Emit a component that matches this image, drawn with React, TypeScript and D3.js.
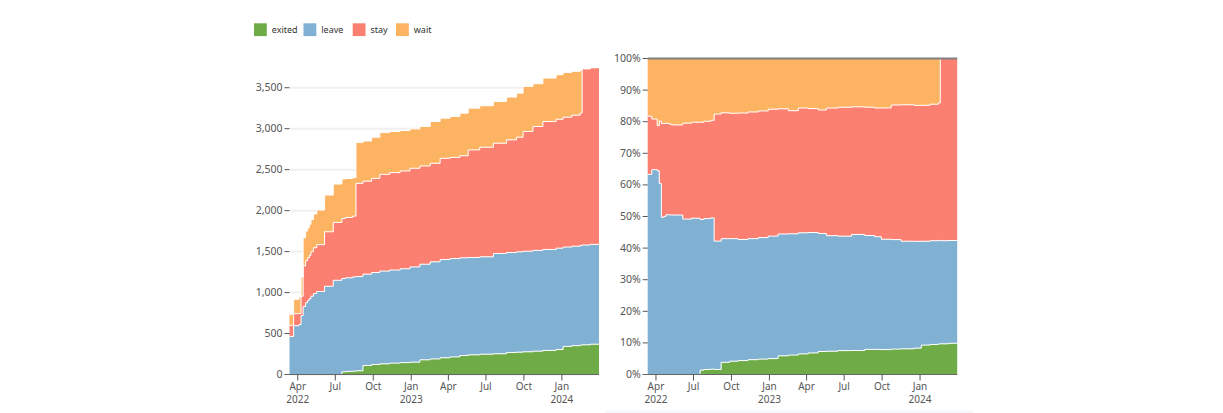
import * as d3 from 'd3';

// cumulative counts per status (step changes)
const dates = [
  '2022-03-12', '2022-03-22', '2022-04-04', '2022-04-09', '2022-04-14', '2022-04-20',
  '2022-04-25', '2022-04-29', '2022-05-03', '2022-05-09', '2022-05-17', '2022-06-05',
  '2022-06-26', '2022-07-17', '2022-07-26', '2022-08-12', '2022-08-20', '2022-09-06',
  '2022-09-27', '2022-10-17', '2022-11-10', '2022-12-05', '2022-12-29', '2023-01-22',
  '2023-02-16', '2023-03-12', '2023-04-05', '2023-04-29', '2023-05-19', '2023-06-16',
  '2023-07-19', '2023-08-20', '2023-09-13', '2023-09-29', '2023-10-23', '2023-11-16',
  '2023-12-18', '2024-01-04', '2024-01-25', '2024-02-14', '2024-02-19', '2024-03-10',
  '2024-03-31',
];
const exited = [
  0, 0, 0, 0, 0, 0, 0, 0, 0, 0, 0, 0,
  0, 33, 38, 41, 45, 110, 122, 130, 139, 145, 151, 179,
  190, 204, 215, 232, 240, 248, 253, 269, 273, 277, 285, 294,
  305, 343, 352, 359, 362, 370, 375,
];
const leave = [
  465, 595, 610, 720, 830, 875, 905, 926, 956, 988, 1013, 1077,
  1150, 1138, 1142, 1150, 1150, 1115, 1123, 1132, 1136, 1145, 1162, 1167,
  1185, 1199, 1200, 1192, 1188, 1188, 1224, 1220, 1224, 1228, 1230, 1232,
  1237, 1212, 1214, 1216, 1218, 1218, 1216,
];
const stay = [
  135, 147, 135, 235, 495, 515, 520, 529, 544, 559, 572, 665,
  706, 734, 737, 742, 1138, 1135, 1149, 1181, 1189, 1194, 1204, 1199,
  1203, 1236, 1235, 1246, 1313, 1338, 1346, 1375, 1399, 1461, 1512, 1562,
  1574, 1586, 1599, 1615, 2152, 2157, 2162,
];
const wait = [
  134, 176, 201, 236, 343, 360, 365, 377, 393, 411, 422, 448,
  469, 481, 475, 470, 498, 490, 502, 510, 502, 494, 481, 482,
  510, 490, 499, 520, 510, 506, 510, 522, 538, 550, 522, 530,
  543, 546, 535, 522, 0, 0, 0,
];

const keys = ['exited', 'leave', 'stay', 'wait'];
const colors = ['#6fac47', '#80b0d2', '#fc8071', '#fdb462'];
const countTicks = [0, 500, 1000, 1500, 2000, 2500, 3000, 3500];
const shareTicks = [0, 0.1, 0.2, 0.3, 0.4, 0.5, 0.6, 0.7, 0.8, 0.9, 1];
const monthTicks = [
  '2022-04-01', '2022-07-01', '2022-10-01', '2023-01-01',
  '2023-04-01', '2023-07-01', '2023-10-01', '2024-01-01',
];
const domainStart = '2022-03-12';
const domainEnd = '2024-03-31';

const parse = d3.utcParse('%Y-%m-%d');
const rows = dates.map((d, i) => ({
  date: parse(d) as Date,
  exited: exited[i],
  leave: leave[i],
  stay: stay[i],
  wait: wait[i],
}));

const FONT = '"Noto Sans", "Open Sans", sans-serif';
const BOTTOM = 374.5;

function Panel({ left, top, expand }: { left: number; top: number; expand: boolean }) {
  const width = 309.5;
  const x = d3
    .scaleUtc()
    .domain([parse(domainStart) as Date, parse(domainEnd) as Date])
    .range([left, left + width]);

  const stack = d3
    .stack<any>()
    .keys(keys)
    .offset(expand ? d3.stackOffsetExpand : d3.stackOffsetNone);
  const series = stack(rows);

  const maxTotal = d3.max(rows, (r) => r.exited + r.leave + r.stay + r.wait) || 1;
  const y = d3
    .scaleLinear()
    .domain([0, expand ? 1 : maxTotal])
    .range([BOTTOM, top]);

  const area = d3
    .area<any>()
    .curve(d3.curveStepAfter)
    .x((d) => x(d.data.date))
    .y0((d) => y(d[0]))
    .y1((d) => y(d[1]));

  const line = d3
    .line<any>()
    .curve(d3.curveStepAfter)
    .x((d) => x(d.data.date))
    .y((d) => y(d[1]));

  const yTicks = expand ? shareTicks : countTicks;
  const fmt = expand ? d3.format('.0%') : d3.format(',');

  return (
    <g>
      {!expand &&
        countTicks.map((t) => (
          <line key={t} x1={left} x2={left + width} y1={y(t)} y2={y(t)} stroke="#f0f0f0" strokeWidth={2} />
        ))}
      {series.map((s, i) => (
        <path key={keys[i]} d={area(s) || ''} fill={colors[i]} />
      ))}
      {series.map((s, i) => (
        <path key={'l' + keys[i]} d={line(s) || ''} fill="none" stroke="#fff" strokeWidth={1} />
      ))}
      {expand && (
        <line x1={left} x2={left + width} y1={top} y2={top} stroke="#808080" strokeWidth={2} />
      )}

      {/* y axis */}
      {yTicks.map((t) => (
        <g key={t}>
          <line x1={left - 5} x2={left} y1={y(t)} y2={y(t)} stroke="#555" />
          <text
            x={left - 7}
            y={y(t)}
            dy="0.34em"
            textAnchor="end"
            fontSize={10.5}
            fontFamily={FONT}
            fill="#555"
          >
            {fmt(t)}
          </text>
        </g>
      ))}

      {/* x axis */}
      <line x1={left - 5} x2={left + width} y1={BOTTOM} y2={BOTTOM} stroke="#666" />
      {monthTicks.map((m, i) => {
        const dt = parse(m) as Date;
        const px = x(dt);
        const showYear = i === 0 || dt.getUTCMonth() === 0;
        return (
          <g key={m}>
            <line x1={px} x2={px} y1={BOTTOM} y2={BOTTOM + 6} stroke="#555" />
            <text x={px} y={BOTTOM + 15.5} textAnchor="middle" fontSize={10} fontFamily={FONT} fill="#555">
              {d3.utcFormat('%b')(dt)}
            </text>
            {showYear && (
              <text x={px} y={BOTTOM + 28} textAnchor="middle" fontSize={10} fontFamily={FONT} fill="#555">
                {d3.utcFormat('%Y')(dt)}
              </text>
            )}
          </g>
        );
      })}
    </g>
  );
}

export default function App() {
  const legendX = [254, 303.5, 352.7, 396];
  return (
    <svg
      width={1223}
      height={413}
      style={{ position: 'absolute', left: 0, top: 0, background: '#fff' }}
    >
      <g>
        {keys.map((k, i) => (
          <g key={k}>
            <rect x={legendX[i]} y={23.3} width={12.8} height={12.8} fill={colors[i]} />
            <text x={legendX[i] + 17.8} y={33} fontSize={9} fontFamily={FONT} fill="#333">
              {k}
            </text>
          </g>
        ))}
      </g>
      <Panel left={289.5} top={67} expand={false} />
      <Panel left={647.7} top={58.5} expand={true} />
      <rect x={605} y={410.5} width={368} height={3} fill="#f6f7f9" />
    </svg>
  );
}
